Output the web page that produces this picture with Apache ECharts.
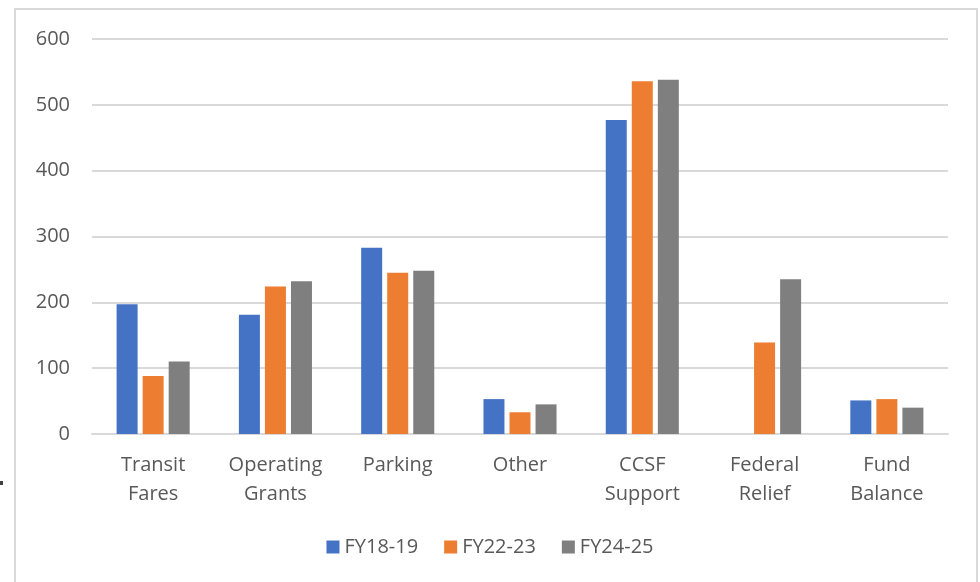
<!DOCTYPE html>
<html>
<head>
<meta charset="utf-8">
<script src="https://cdn.jsdelivr.net/npm/echarts@6/dist/echarts.min.js"></script>
<style>
  html, body { margin: 0; padding: 0; background: #fff; }
  #chart { width: 980px; height: 582px; }
</style>
</head>
<body>
<div id="chart"></div>
<script>
// categories and values
const categories = ['Transit\nFares', 'Operating\nGrants', 'Parking', 'Other', 'CCSF\nSupport', 'Federal\nRelief', 'Fund\nBalance'];
const fy1819 = [197, 181, 283, 53, 477, 0, 51];
const fy2223 = [88, 224, 245, 33, 536, 139, 53];
const fy2425 = [110, 232, 248, 45, 538, 235, 40];
const seriesNames = ['FY18-19', 'FY22-23', 'FY24-25'];
const colors = ['#4472C4', '#ED7D31', '#7F7F7F'];

const chart = echarts.init(document.getElementById('chart'));
const font = '"Open Sans", "Noto Sans", sans-serif';

const option = {
  backgroundColor: '#fff',
  color: colors,
  textStyle: { fontFamily: font },
  animation: false,
  grid: { left: 92, right: 32, top: 39, bottom: 148 },
  legend: {
    data: seriesNames,
    bottom: 20,
    left: 'center',
    itemWidth: 13,
    itemHeight: 13,
    itemGap: 26,
    icon: 'rect',
    textStyle: { fontSize: 20, color: '#595959', fontFamily: font }
  },
  xAxis: {
    type: 'category',
    data: categories,
    axisTick: { show: false },
    axisLine: { lineStyle: { color: '#d9d9d9', width: 2 } },
    axisLabel: { color: '#595959', fontSize: 20, lineHeight: 29, margin: 17, fontFamily: font, interval: 0 }
  },
  yAxis: {
    type: 'value',
    min: 0,
    max: 600,
    interval: 100,
    axisLine: { show: false },
    axisTick: { show: false },
    axisLabel: { color: '#595959', fontSize: 20, margin: 22, fontFamily: font },
    splitLine: { lineStyle: { color: '#d9d9d9', width: 2 } }
  },
  series: [
    { name: seriesNames[0], type: 'bar', data: fy1819, barWidth: 21, barGap: '24%' },
    { name: seriesNames[1], type: 'bar', data: fy2223, barWidth: 21, barGap: '24%' },
    { name: seriesNames[2], type: 'bar', data: fy2425, barWidth: 21, barGap: '24%' }
  ],
  graphic: [
    {
      type: 'rect',
      shape: { x: 15, y: 9, width: 962, height: 600 },
      style: { fill: 'none', stroke: '#d9d9d9', lineWidth: 2 },
      silent: true
    },
    {
      type: 'rect',
      shape: { x: 0, y: 481, width: 3, height: 4 },
      style: { fill: '#404040' },
      silent: true
    }
  ]
};

chart.setOption(option);
</script>
</body>
</html>
